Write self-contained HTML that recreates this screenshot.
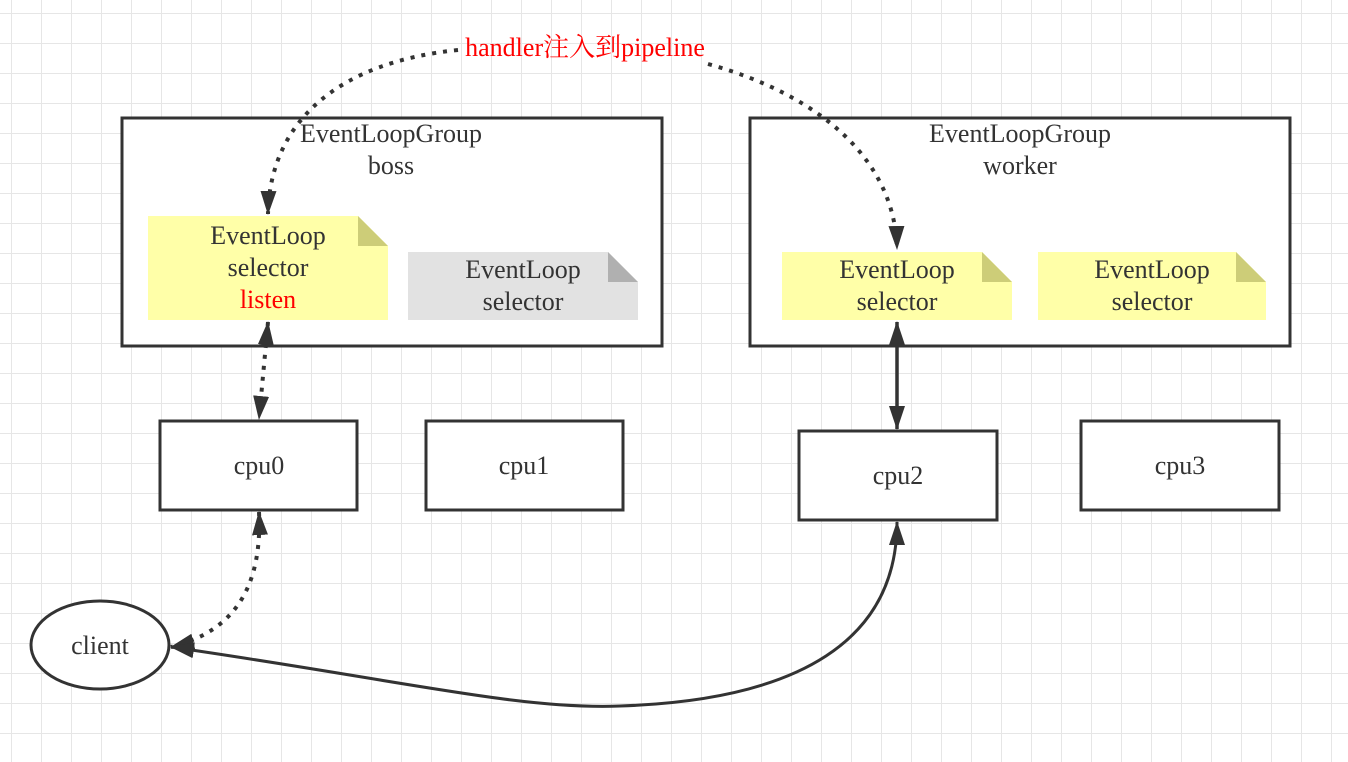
<!DOCTYPE html>
<html><head><meta charset="utf-8"><style>
html,body{margin:0;padding:0;background:#fff}
svg{display:block}
text{font-family:"Liberation Serif","Noto Serif CJK SC",serif;font-size:26px;fill:#333;text-anchor:middle}
</style></head><body>
<svg width="1348" height="762" viewBox="0 0 1348 762" xmlns="http://www.w3.org/2000/svg">
<defs>
<pattern id="g" x="11" y="13" width="30" height="30" patternUnits="userSpaceOnUse">
<path d="M0 0H30M0 0V30" stroke="#e6e6e6" stroke-width="2" fill="none"/>
</pattern>
<marker id="a" viewBox="0 0 24 16" refX="23" refY="8" markerWidth="24" markerHeight="16" orient="auto-start-reverse" markerUnits="userSpaceOnUse">
<path d="M0 0L24 8L0 16z" fill="#333"/>
</marker>
</defs>
<rect width="1348" height="762" fill="url(#g)"/>
<rect x="122" y="118" width="540" height="228" fill="#fff" stroke="#333" stroke-width="3"/>
<rect x="750" y="118" width="540" height="228" fill="#fff" stroke="#333" stroke-width="3"/>
<text x="391" y="142">EventLoopGroup</text><text x="391" y="174">boss</text>
<text x="1020" y="142">EventLoopGroup</text><text x="1020" y="174">worker</text>
<path d="M148 216H358L388 246V320H148z" fill="#ffffa8"/><path d="M358 216L388 246H358z" fill="#cdcd78"/>
<text x="268" y="244">EventLoop</text><text x="268" y="276">selector</text><text x="268" y="308" style="fill:#f00">listen</text>
<path d="M408 252H608L638 282V320H408z" fill="#e2e2e2"/><path d="M608 252L638 282H608z" fill="#b0b0b0"/>
<text x="523" y="278">EventLoop</text><text x="523" y="310">selector</text>
<path d="M782 252H982L1012 282V320H782z" fill="#ffffa8"/><path d="M982 252L1012 282H982z" fill="#cdcd78"/>
<text x="897" y="278">EventLoop</text><text x="897" y="310">selector</text>
<path d="M1038 252H1236L1266 282V320H1038z" fill="#ffffa8"/><path d="M1236 252L1266 282H1236z" fill="#cdcd78"/>
<text x="1152" y="278">EventLoop</text><text x="1152" y="310">selector</text>
<g fill="#fff" stroke="#333" stroke-width="3">
<rect x="160" y="421" width="197" height="89"/>
<rect x="426" y="421" width="197" height="89"/>
<rect x="799" y="431" width="198" height="89"/>
<rect x="1081" y="421" width="198" height="89"/>
<ellipse cx="100" cy="645" rx="69" ry="44"/>
</g>
<text x="259" y="474">cpu0</text><text x="524" y="474">cpu1</text><text x="898" y="484">cpu2</text><text x="1180" y="474">cpu3</text><text x="100" y="654">client</text>
<g fill="none" stroke="#333" stroke-width="4">
<path d="M458 50C340 62 270 120 268 214" stroke-dasharray="4 7" marker-end="url(#a)"/>
<path d="M708 64C820 95 895 160 897 249" stroke-dasharray="4 7" marker-end="url(#a)"/>
<path d="M268 322L259 419" stroke-dasharray="4 7" marker-start="url(#a)" marker-end="url(#a)"/>
<path d="M259 512C262 580 240 630 171 647" stroke-dasharray="4 7" marker-start="url(#a)" marker-end="url(#a)"/>
<path d="M897 322V429" stroke-width="3.5" marker-start="url(#a)" marker-end="url(#a)"/>
<path d="M171 647C400 680 520 710 620 706C800 700 897 640 897 522" stroke-width="3" marker-start="url(#a)" marker-end="url(#a)"/>
</g>
<text x="585" y="56" style="fill:#f00">handler注入到pipeline</text>
</svg>
</body></html>
